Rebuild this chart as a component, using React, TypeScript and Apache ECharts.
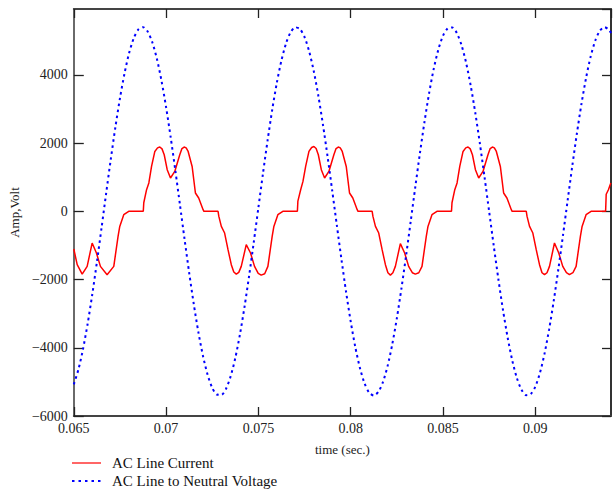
import React, { useEffect, useRef } from "react";
import * as echarts from "echarts";

// Time axis ticks (seconds)
const xTicks = [0.065, 0.07, 0.075, 0.08, 0.085, 0.09];
const yTicks = [-6000, -4000, -2000, 0, 2000, 4000];
const legendNames = ["AC Line Current", "AC Line to Neutral Voltage"];

// AC line-to-neutral voltage, sampled every 0.25 ms
const voltageTime = [
  0.065, 0.06525, 0.0655, 0.06575, 0.066, 0.06625, 0.0665, 0.06675, 0.067, 0.06725,
  0.0675, 0.06775, 0.068, 0.06825, 0.0685, 0.06875, 0.069, 0.06925, 0.0695, 0.06975,
  0.07, 0.07025, 0.0705, 0.07075, 0.071, 0.07125, 0.0715, 0.07175, 0.072, 0.07225,
  0.0725, 0.07275, 0.073, 0.07325, 0.0735, 0.07375, 0.074, 0.07425, 0.0745, 0.07475,
  0.075, 0.07525, 0.0755, 0.07575, 0.076, 0.07625, 0.0765, 0.07675, 0.077, 0.07725,
  0.0775, 0.07775, 0.078, 0.07825, 0.0785, 0.07875, 0.079, 0.07925, 0.0795, 0.07975,
  0.08, 0.08025, 0.0805, 0.08075, 0.081, 0.08125, 0.0815, 0.08175, 0.082, 0.08225,
  0.0825, 0.08275, 0.083, 0.08325, 0.0835, 0.08375, 0.084, 0.08425, 0.0845, 0.08475,
  0.085, 0.08525, 0.0855, 0.08575, 0.086, 0.08625, 0.0865, 0.08675, 0.087, 0.08725,
  0.0875, 0.08775, 0.088, 0.08825, 0.0885, 0.08875, 0.089, 0.08925, 0.0895, 0.08975,
  0.09, 0.09025, 0.0905, 0.09075, 0.091, 0.09125, 0.0915, 0.09175, 0.092, 0.09225,
  0.0925, 0.09275, 0.093, 0.09325, 0.0935, 0.09375, 0.094, 0.0941,
];
const voltageValue = [
  -5073, -4639, -4038, -3296, -2439, -1495, -498, 517, 1513, 2456,
  3312, 4051, 4647, 5079, 5332, 5398, 5272, 4960, 4474, 3830,
  3050, 2163, 1199, 194, -819, -1803, -2723, -3548, -4246, -4795,
  -5175, -5372, -5380, -5198, -4832, -4296, -3609, -2793, -1880, -901,
  111, 1119, 2087, 2982, 3771, 4427, 4928, 5254, 5394, 5345,
  5107, 4689, 4106, 3376, 2529, 1592, 599, -415, -1415, -2365,
  -3232, -3982, -4594, -5044, -5316, -5400, -5293, -5000, -4531, -3901,
  -3134, -2255, -1298, -296, 718, 1706, 2635, 3471, 4183, 4747,
  5145, 5361, 5388, 5224, 4877, 4357, 3683, 2881, 1975, 1001,
  -9, -1018, -1992, -2897, -3696, -4369, -4885, -5229, -5389, -5358,
  -5139, -4739, -4171, -3454, -2619, -1690, -700, 314, 1317, 2273,
  3149, 3911, 4540, 5007, 5297, 5400, 5313, 5224,
];

// AC line current
const currentTime = [
  // negative half (partial)
  0.065, 0.065184, 0.065454, 0.065724, 0.065994, 0.066226, 0.066442, 0.066804, 0.067166, 0.067398, 0.06749, 0.067706, 0.067976,
  // positive half
  0.068764, 0.068791, 0.068942, 0.069066, 0.069212, 0.06939, 0.069536, 0.06966, 0.069779, 0.069898, 0.07006, 0.070238, 0.07047, 0.07074, 0.070859, 0.070978, 0.071086, 0.071194, 0.07141, 0.071588, 0.071766, 0.072004, 0.072047,
  // negative half
  0.072814, 0.072857, 0.072992, 0.07317, 0.073354, 0.073532, 0.073667, 0.073802, 0.073937, 0.074072, 0.074342, 0.074574, 0.07479, 0.07499, 0.075152, 0.075341, 0.075514, 0.075746, 0.075838, 0.076054, 0.076324,
  // positive half
  0.077112, 0.077139, 0.07729, 0.077414, 0.07756, 0.077738, 0.077884, 0.078008, 0.078127, 0.078246, 0.078408, 0.078586, 0.078818, 0.079088, 0.079207, 0.079326, 0.079434, 0.079542, 0.079758, 0.079936, 0.080114, 0.080352, 0.080395,
  // negative half
  0.081162, 0.081205, 0.08134, 0.081518, 0.081702, 0.08188, 0.082015, 0.08215, 0.082285, 0.08242, 0.08269, 0.082922, 0.083138, 0.083338, 0.0835, 0.083689, 0.083862, 0.084094, 0.084186, 0.084402, 0.084672,
  // positive half
  0.08546, 0.085487, 0.085638, 0.085762, 0.085908, 0.086086, 0.086232, 0.086356, 0.086475, 0.086594, 0.086756, 0.086934, 0.087166, 0.087436, 0.087555, 0.087674, 0.087782, 0.08789, 0.088106, 0.088284, 0.088462, 0.0887, 0.088743,
  // negative half
  0.08951, 0.089553, 0.089688, 0.089866, 0.09005, 0.090228, 0.090363, 0.090498, 0.090633, 0.090768, 0.091038, 0.09127, 0.091486, 0.091686, 0.091848, 0.092037, 0.09221, 0.092442, 0.092534, 0.09275, 0.09302,
  // positive half (partial)
  0.093808, 0.09384, 0.09396, 0.09409,
];
const currentValue = [
  -1105, -1565, -1840, -1614, -930, -1222, -1614, -1858, -1614, -735, -442, -100, 0,
  0, 250, 633, 830, 1315, 1755, 1860, 1884, 1830, 1658, 1219, 976, 1169, 1658, 1840, 1884, 1860, 1755, 1315, 536, 390, 47, 0,
  0, -150, -442, -637, -1125, -1565, -1780, -1840, -1790, -1614, -979, -1222, -1614, -1820, -1870, -1830, -1614, -735, -442, -100, 0,
  0, 300, 633, 876, 1315, 1755, 1870, 1900, 1840, 1658, 1219, 976, 1169, 1658, 1840, 1884, 1860, 1755, 1315, 536, 390, 47, 0,
  0, -150, -442, -637, -1125, -1565, -1800, -1870, -1800, -1614, -949, -1222, -1614, -1800, -1840, -1800, -1614, -735, -442, -100, 0,
  0, 250, 633, 830, 1315, 1755, 1860, 1884, 1830, 1658, 1219, 976, 1169, 1658, 1840, 1884, 1860, 1755, 1315, 536, 390, 47, 0,
  0, -150, -442, -637, -1125, -1565, -1800, -1858, -1800, -1614, -929, -1222, -1614, -1800, -1858, -1800, -1614, -735, -442, -100, 0,
  0, 500, 633, 829,
];

const FONT = "'Liberation Serif', 'DejaVu Serif', serif";
const RED = "#ff0000";
const BLUE = "#0000ff";

export default function App() {
  const ref = useRef<HTMLDivElement>(null);
  useEffect(() => {
    if (!ref.current) return;
    const chart = echarts.init(ref.current, undefined, { renderer: "svg" });
    const xMin = xTicks[0];
    const xMax = 0.0941;
    const yMin = yTicks[0];
    const yMax = 5930;
    const fmtX = (v: number) =>
      xTicks.some((t) => Math.abs(t - v) < 1e-9) ? String(parseFloat(v.toFixed(4))) : "";
    const fmtY = (v: number) =>
      yTicks.includes(v) ? (v < 0 ? "\u2212" + Math.abs(v) : String(v)) : "";
    const tickStyle = { color: "#222", width: 1.3 };
    chart.setOption({
      animation: false,
      grid: { left: 72, right: 2, top: 9, bottom: 77, containLabel: false },
      legend: { show: false },
      graphic: [
        { type: "line", shape: { x1: 72, y1: 463, x2: 101, y2: 463 }, style: { stroke: RED, lineWidth: 1.2 } },
        {
          type: "text",
          x: 112,
          y: 463,
          style: { text: legendNames[0], font: `15px ${FONT}`, fill: "#111", verticalAlign: "middle", align: "left" },
        },
        {
          type: "line",
          shape: { x1: 72, y1: 481, x2: 101, y2: 481 },
          style: { stroke: BLUE, lineWidth: 2, lineDash: [2.5, 4] },
        },
        {
          type: "text",
          x: 112,
          y: 481,
          style: { text: legendNames[1], font: `15px ${FONT}`, fill: "#111", verticalAlign: "middle", align: "left" },
        },
      ],
      xAxis: [
        {
          type: "value",
          position: "bottom",
          min: xMin,
          max: xMax,
          interval: 0.005,
          name: "time (sec.)",
          nameLocation: "middle",
          nameGap: 27,
          nameTextStyle: { fontFamily: FONT, fontSize: 13, color: "#222" },
          axisLine: { onZero: false, lineStyle: { color: "#444", width: 2 } },
          axisTick: { inside: true, length: 9, lineStyle: tickStyle },
          axisLabel: { fontFamily: FONT, fontSize: 14, color: "#222", margin: 5, showMaxLabel: false, formatter: fmtX },
          splitLine: { show: false },
        },
        {
          type: "value",
          position: "top",
          min: xMin,
          max: xMax,
          interval: 0.005,
          axisLine: { onZero: false, lineStyle: { color: "#444", width: 2 } },
          axisTick: { inside: true, length: 9, lineStyle: tickStyle },
          axisLabel: { show: false },
          splitLine: { show: false },
        },
      ],
      yAxis: [
        {
          type: "value",
          position: "left",
          min: yMin,
          max: yMax,
          interval: 2000,
          name: "Amp,Volt",
          nameLocation: "middle",
          nameGap: 46,
          nameTextStyle: { fontFamily: FONT, fontSize: 13, color: "#222" },
          axisLine: { onZero: false, lineStyle: { color: "#6a6a6a", width: 2 } },
          axisTick: { inside: true, length: 10, lineStyle: tickStyle },
          axisLabel: { fontFamily: FONT, fontSize: 14, color: "#222", margin: 6, showMaxLabel: false, formatter: fmtY },
          splitLine: { show: false },
        },
        {
          type: "value",
          position: "right",
          min: yMin,
          max: yMax,
          interval: 2000,
          axisLine: { onZero: false, lineStyle: { color: "#333", width: 2 } },
          axisTick: { inside: true, length: 9, lineStyle: tickStyle },
          axisLabel: { show: false },
          splitLine: { show: false },
        },
      ],
      series: [
        {
          name: legendNames[0],
          type: "line",
          xAxisIndex: 0,
          yAxisIndex: 0,
          symbol: "none",
          data: currentTime.map((t, i) => [t, currentValue[i]]),
          lineStyle: { color: RED, width: 1.5 },
          itemStyle: { color: RED },
        },
        {
          name: legendNames[1],
          type: "line",
          xAxisIndex: 0,
          yAxisIndex: 0,
          symbol: "none",
          smooth: 0.25,
          data: voltageTime.map((t, i) => [t, voltageValue[i]]),
          lineStyle: { color: BLUE, width: 2, type: [2.5, 3.5] },
          itemStyle: { color: BLUE },
        },
      ],
    });
    return () => chart.dispose();
  }, []);
  return (
    <div
      ref={ref}
      style={{ position: "absolute", left: 0, top: 0, width: 613, height: 493, background: "#fff" }}
    />
  );
}
